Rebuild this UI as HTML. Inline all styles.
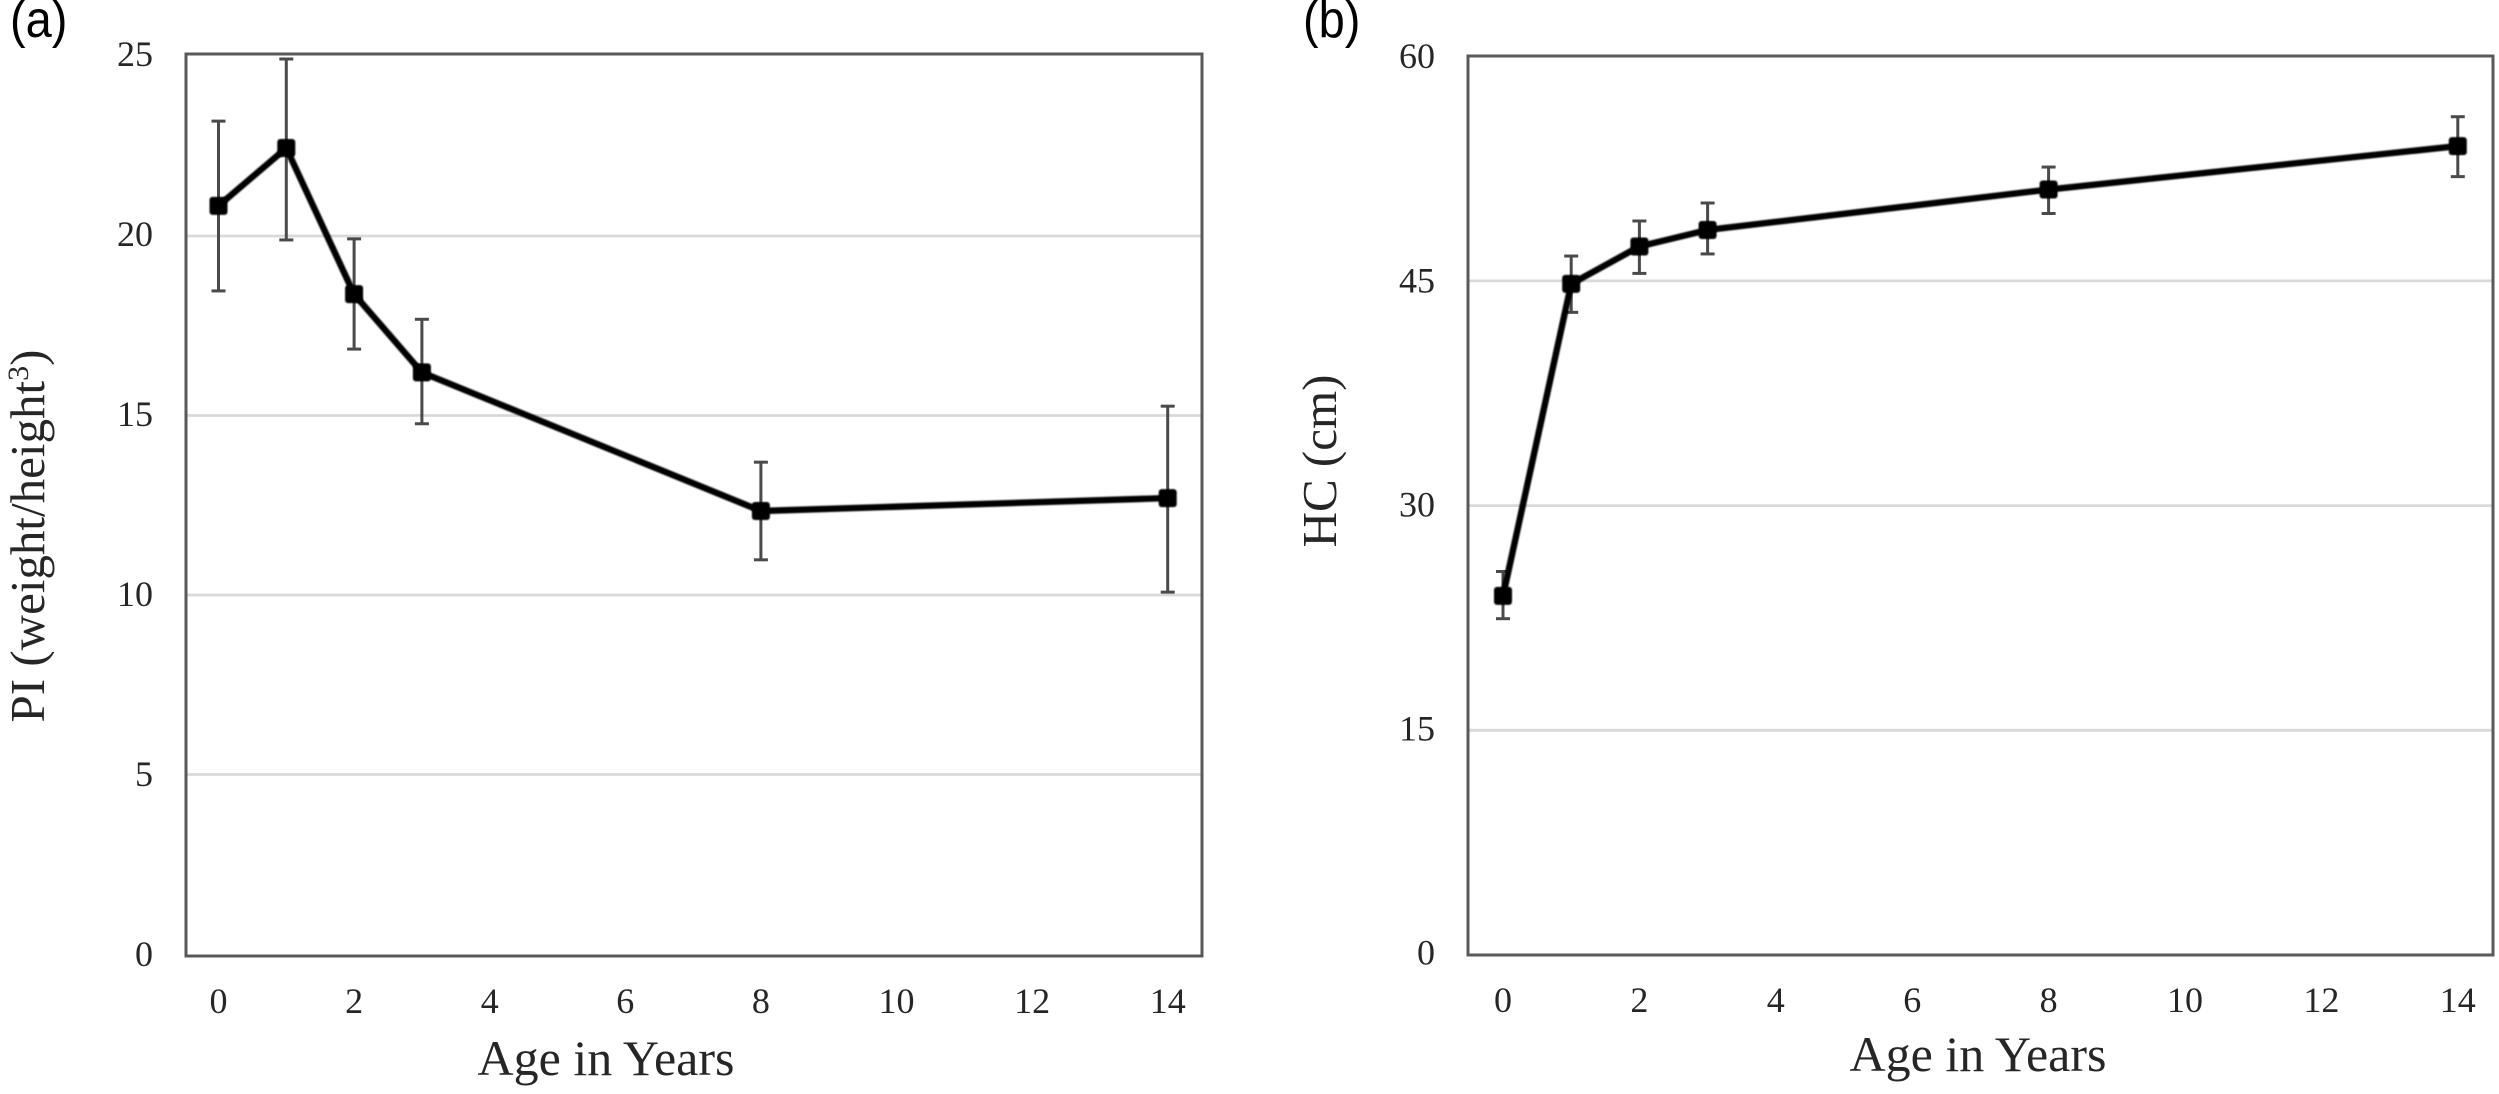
<!DOCTYPE html>
<html lang="en">
<head>
<meta charset="utf-8">
<title>PI and HC by age</title>
<style>
html,body{margin:0;padding:0;background:#fff;width:2499px;height:1094px;overflow:hidden}
svg{display:block}
.serif{font-family:"Liberation Serif",serif;fill:#262626}
.tick{font-size:36px}
.title{font-size:50px}
.panel{font-family:"Liberation Sans",sans-serif;font-size:47px;fill:#000}
</style>
</head>
<body>
<svg id="figure" width="2499" height="1094" viewBox="0 0 2499 1094" xmlns="http://www.w3.org/2000/svg">
  <defs>
    <filter id="soft" x="-5%" y="-5%" width="110%" height="110%"><feGaussianBlur stdDeviation="0.7"/></filter>
  </defs>
  <rect width="2499" height="1094" fill="#fff"/>

  <g id="panel-a"></g>
  <g id="panel-b"></g>

  <text class="panel" transform="translate(10 37) scale(1 1.1)">(a)</text>
  <text class="panel" transform="translate(1303 37) scale(1 1.1)">(b)</text>

  <text class="serif title" x="606" y="1075" text-anchor="middle">Age in Years</text>
  <text class="serif title" x="1978" y="1071" text-anchor="middle">Age in Years</text>

  <text class="serif title" font-size="49" style="font-size:49px" transform="translate(44 536) rotate(-90)" text-anchor="middle">PI (weight/height<tspan style="font-size:30px" dy="-16">3</tspan><tspan dy="16">)</tspan></text>
  <text class="serif title" style="font-size:49px" transform="translate(1336 461) rotate(-90)" text-anchor="middle">HC (cm)</text>
</svg>

<script>
// Shared x values and tick labels
const ages = [0, 1, 2, 3, 8, 14];
const xTickLabels = [0, 2, 4, 6, 8, 10, 12, 14];

// Panel (a): PI
const piTickLabels = [0, 5, 10, 15, 20, 25];
const piValues = [20.84, 22.45, 18.38, 16.2, 12.34, 12.7];
const piUpper = [23.2, 24.93, 19.92, 17.68, 13.7, 15.26];
const piLower = [18.47, 19.89, 16.85, 14.77, 10.98, 10.08];

// Panel (b): HC
const hcTickLabels = [0, 15, 30, 45, 60];
const hcValues = [23.97, 44.8, 47.3, 48.4, 51.1, 54.0];
const hcUpper = [25.6, 46.66, 49.0, 50.2, 52.6, 55.96];
const hcLower = [22.45, 42.9, 45.5, 46.8, 49.5, 51.96];

const SVG_NS = 'http://www.w3.org/2000/svg';

function make(parent, tag, attrs) {
  const el = document.createElementNS(SVG_NS, tag);
  for (const k in attrs) el.setAttribute(k, attrs[k]);
  parent.appendChild(el);
  return el;
}

function drawPanel(opts) {
  const root = document.getElementById(opts.id);
  const xScale = v => opts.x0 + v * opts.xPerUnit;
  const yScale = v => opts.y0 - v * opts.yPerUnit;
  const yLabelScale = v => opts.labelY0 - v * opts.labelPerUnit;
  const yMax = opts.yTicks[opts.yTicks.length - 1];

  // gridlines and y tick labels
  opts.yTicks.forEach(t => {
    if (t !== 0 && t !== yMax) {
      const grid = make(root, 'line', {
        x1: opts.left, x2: opts.right, y1: yScale(t), y2: yScale(t),
        stroke: '#d9d9d9', 'stroke-width': 2.8
      });
      
      
    }
    const label = make(root, 'text', {
      x: opts.yLabelRight, y: yLabelScale(t), 'text-anchor': 'end', class: 'serif tick'
    });
    label.textContent = t;
    
    
  });

  // x tick labels
  xTickLabels.forEach(t => {
    const label = make(root, 'text', {
      x: xScale(t), y: opts.xLabelY, 'text-anchor': 'middle', class: 'serif tick'
    });
    label.textContent = t;
    
    
  });

  // plot frame
  const frame = make(root, 'rect', {
    x: opts.left, y: opts.top, width: opts.right - opts.left, height: opts.bottom - opts.top,
    fill: 'none', stroke: '#595959', 'stroke-width': 3
  });
  
  

  // error bars
  ages.forEach((age, i) => {
    const g = make(root, 'g', { stroke: '#4a4a4a', 'stroke-width': 3, fill: 'none' });
    
    
    const x = xScale(age), hi = yScale(opts.upper[i]), lo = yScale(opts.lower[i]);
    make(g, 'line', { x1: x, x2: x, y1: hi, y2: lo });
    make(g, 'line', { x1: x - 7, x2: x + 7, y1: hi, y2: hi });
    make(g, 'line', { x1: x - 7, x2: x + 7, y1: lo, y2: lo });
  });

  // series line
  const pts = ages.map((age, i) => xScale(age) + ',' + yScale(opts.values[i])).join(' ');
  const line = make(root, 'polyline', {
    points: pts, fill: 'none', stroke: '#000', 'stroke-width': 6.4,
    'stroke-linejoin': 'round', filter: 'url(#soft)'
  });
  
  

  // markers
  ages.forEach((age, i) => {
    const m = make(root, 'rect', {
      x: xScale(age) - 9, y: yScale(opts.values[i]) - 9, width: 18, height: 18,
      rx: 3, fill: '#000', filter: 'url(#soft)'
    });
    
    
  });
}

drawPanel({
  id: 'panel-a', left: 186, right: 1202, top: 54, bottom: 956,
  x0: 218.5, xPerUnit: 67.8, y0: 954, yPerUnit: 35.9,
  labelY0: 966, labelPerUnit: 36,
  yLabelRight: 153, xLabelY: 1013,
  yTicks: piTickLabels, values: piValues, upper: piUpper, lower: piLower
});

drawPanel({
  id: 'panel-b', left: 1468, right: 2493, top: 56, bottom: 955,
  x0: 1503, xPerUnit: 68.2, y0: 955, yPerUnit: 14.98,
  labelY0: 964.6, labelPerUnit: 14.94,
  yLabelRight: 1435, xLabelY: 1012,
  yTicks: hcTickLabels, values: hcValues, upper: hcUpper, lower: hcLower
});
</script>
</body>
</html>
